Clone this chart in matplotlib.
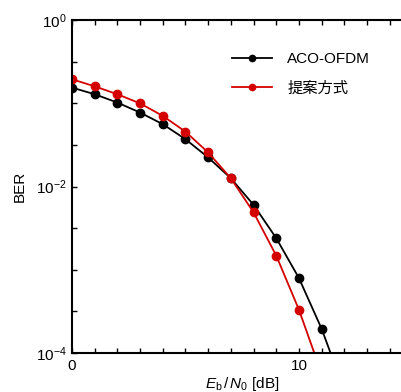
import numpy as np
import matplotlib.pyplot as plt
from matplotlib.ticker import FixedLocator, LogFormatterMathtext, NullFormatter

plt.rcParams['font.family'] = ['Liberation Sans', 'Noto Sans CJK JP']
plt.rcParams['mathtext.fontset'] = 'custom'
plt.rcParams['mathtext.rm'] = 'Liberation Sans'
plt.rcParams['mathtext.it'] = 'Liberation Sans:italic'

# data (Eb/N0 [dB], log10 BER)
snr_aco = [0, 1, 2, 3, 4, 5, 6, 7, 8, 9, 10, 11, 12]
log_ber_aco = [-0.81, -0.89, -0.99, -1.11, -1.25, -1.43, -1.65, -1.90, -2.22, -2.62, -3.10, -3.71, -4.45]
snr_prop = [0, 1, 2, 3, 4, 5, 6, 7, 8, 9, 10, 11]
log_ber_prop = [-0.71, -0.795, -0.89, -1.00, -1.15, -1.34, -1.59, -1.90, -2.31, -2.83, -3.48, -4.25]
labels = ['ACO-OFDM', '提案方式']

fig = plt.figure(figsize=(4.02, 3.92), dpi=100)
ax = fig.add_axes([0.179, 0.0995, 0.847, 0.849])

ax.semilogy(snr_aco, 10**np.array(log_ber_aco), '-o', color='black',
            lw=1.3, ms=6, label=labels[0])
ax.semilogy(snr_prop, 10**np.array(log_ber_prop), '-o', color='#d40000',
            lw=1.3, ms=6, label=labels[1])

ax.set_xlim(0, 15)
ax.set_ylim(1e-4, 1)

ax.xaxis.set_major_locator(FixedLocator([0, 10]))
ax.xaxis.set_minor_locator(FixedLocator(np.arange(0, 16, 1)))
ax.yaxis.set_major_locator(FixedLocator([1e-4, 1e-2, 1]))
ax.yaxis.set_major_formatter(LogFormatterMathtext())
ax.yaxis.set_minor_locator(FixedLocator([10**(-k / 2) for k in range(9)]))
ax.yaxis.set_minor_formatter(NullFormatter())
ax.tick_params(which='both', direction='in', top=True, length=3.5, width=1,
               labelsize=11, pad=4)

for s in ax.spines.values():
    s.set_linewidth(1.5)

ax.set_ylabel('BER', fontsize=11, labelpad=6)
ax.set_xlabel(r'$E_{\rm b}\,/\,N_{\rm 0}$ [dB]', fontsize=11, labelpad=2)

ax.legend(loc='upper left', bbox_to_anchor=(0.43, 0.945), frameon=False,
          fontsize=11, markerscale=0.75, handlelength=2.6, labelspacing=0.98,
          handletextpad=1.0)

fig.savefig('out.png', dpi=100)
